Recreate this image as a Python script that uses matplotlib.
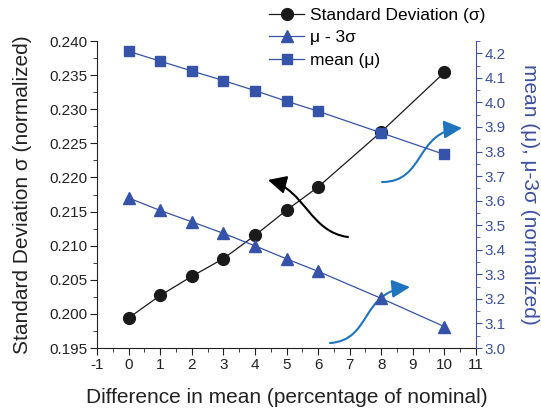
import numpy as np
import matplotlib
matplotlib.use("Agg")
from matplotlib import pyplot as plt
from matplotlib.patches import FancyArrowPatch
from matplotlib.path import Path
from matplotlib.ticker import MultipleLocator, FormatStrFormatter

# data
diff_mean = [0, 1, 2, 3, 4, 5, 6, 8, 10]
std_dev = [0.1994, 0.2027, 0.2055, 0.2081, 0.2115, 0.2152, 0.2186, 0.2267, 0.2354]
mu_minus_3s = [3.611, 3.560, 3.514, 3.467, 3.416, 3.363, 3.312, 3.202, 3.087]
mean_mu = [4.208, 4.168, 4.128, 4.089, 4.048, 4.005, 3.964, 3.876, 3.788]

blue = '#3553a8'
axis_blue = '#3d50a0'
arrow_blue = '#1f74bd'

plt.rcParams['font.family'] = ['Liberation Sans', 'DejaVu Sans']
plt.rcParams['axes.unicode_minus'] = False

fig = plt.figure(figsize=(5.41, 4.15), dpi=100)
ax = fig.add_axes([0.1793, 0.1614, 0.7006, 0.7398])
ax2 = ax.twinx()

l1, = ax.plot(diff_mean, std_dev, '-o', color='#1a1a1a', lw=0.9, ms=8.5,
              label='Standard Deviation (σ)')
l2, = ax2.plot(diff_mean, mu_minus_3s, '-^', color=blue, lw=0.9, ms=9,
               label='μ - 3σ')
l3, = ax2.plot(diff_mean, mean_mu, '-s', color=blue, lw=0.9, ms=7.5,
               label='mean (μ)')

ax.set_xlim(-1, 11)
ax.set_ylim(0.195, 0.240)
ax2.set_ylim(3.0, 4.25)

ax.xaxis.set_major_locator(MultipleLocator(1))
ax.xaxis.set_minor_locator(MultipleLocator(0.5))
ax.yaxis.set_major_locator(MultipleLocator(0.005))
ax.yaxis.set_minor_locator(MultipleLocator(0.0025))
ax.yaxis.set_major_formatter(FormatStrFormatter('%.3f'))
ax2.yaxis.set_major_locator(MultipleLocator(0.1))
ax2.yaxis.set_minor_locator(MultipleLocator(0.05))
ax2.yaxis.set_major_formatter(FormatStrFormatter('%.1f'))
ax2.set_yticks(np.arange(3.0, 4.21, 0.1))

for a in (ax, ax2):
    a.spines['top'].set_visible(False)
ax.spines['right'].set_visible(False)
ax2.spines['left'].set_visible(False)
ax2.spines['bottom'].set_visible(False)
ax2.spines['right'].set_color(axis_blue)
for s in ('left', 'bottom'):
    ax.spines[s].set_color('#222222')

ax.tick_params(axis='both', which='major', direction='out', length=5,
               labelsize=11, colors='#222222', pad=2)
ax.tick_params(axis='both', which='minor', direction='out', length=3, color='#222222')
ax2.tick_params(axis='y', which='major', direction='out', length=4,
                labelsize=11, colors=axis_blue, pad=2)
ax2.tick_params(axis='y', which='minor', direction='out', length=3, color=axis_blue)

ax.set_xlabel('Difference in mean (percentage of nominal)', fontsize=15,
              color='#222222', labelpad=12)
ax.set_ylabel('Standard Deviation σ (normalized)', fontsize=15,
              color='#222222', labelpad=12)
ax2.set_ylabel('mean (μ), μ-3σ (normalized)', fontsize=15, color=axis_blue,
               rotation=270, labelpad=24)

fig.legend(handles=[l1, l2, l3], loc='upper left', bbox_to_anchor=(0.485, 0.998),
           frameon=False, fontsize=12.5, handlelength=2.0, handletextpad=0.35,
           labelspacing=0.42, borderaxespad=0)

# curved annotation arrows (left axis data coords)
arrows = [
    ([(6.947, 0.21127), (5.744, 0.21200), (5.586, 0.21816), (4.414, 0.21963)], '#000000'),
    ([(8.024, 0.21933), (9.385, 0.21933), (9.069, 0.22666), (10.557, 0.22725)], arrow_blue),
    ([(6.377, 0.19573), (7.707, 0.19617), (7.327, 0.20321), (8.910, 0.20394)], arrow_blue),
]
for pts, c in arrows:
    path = Path(pts, [Path.MOVETO, Path.CURVE4, Path.CURVE4, Path.CURVE4])
    arr = FancyArrowPatch(path=path, arrowstyle='-|>,head_length=1.1,head_width=0.55',
                          mutation_scale=10, color=c, lw=1.5,
                          transform=ax.transData, clip_on=False)
    ax2.add_patch(arr)

fig.savefig('out.png', dpi=100)
